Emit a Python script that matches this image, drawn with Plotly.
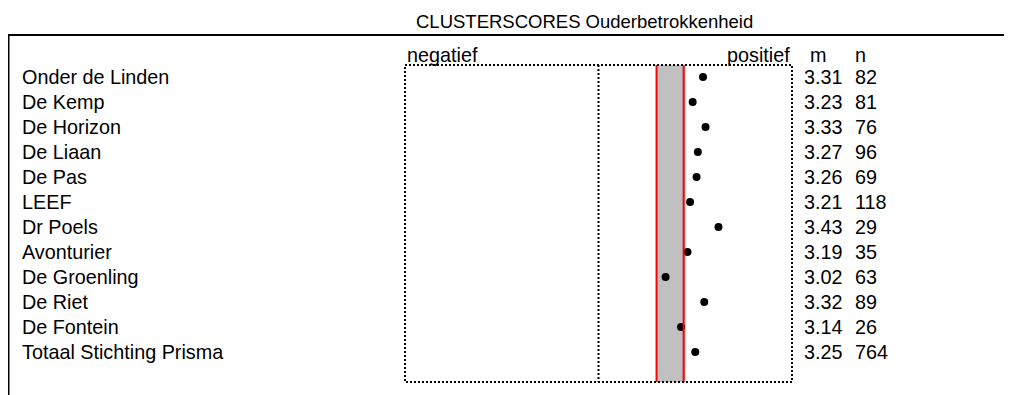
import plotly.graph_objects as go

# data
schools = [
    "Onder de Linden", "De Kemp", "De Horizon", "De Liaan", "De Pas", "LEEF",
    "Dr Poels", "Avonturier", "De Groenling", "De Riet", "De Fontein",
    "Totaal Stichting Prisma",
]
m_values = [3.31, 3.23, 3.33, 3.27, 3.26, 3.21, 3.43, 3.19, 3.02, 3.32, 3.14, 3.25]
n_values = [82, 81, 76, 96, 69, 118, 29, 35, 63, 89, 26, 764]
scale_min, scale_mid, scale_max = 1, 2.5, 4
band_low, band_high = 2.95, 3.16

# the page body has an 8px margin, so the figure is a bit smaller than the window
PAGE = 8
W, H = 1012 - PAGE, 395 - PAGE
FONT = "Liberation Sans, Arial, sans-serif"
rows = list(range(len(schools)))


def px_x(p):
    # screen pixel -> paper x
    return (p - PAGE) / W


def px_y(p):
    return 1 - (p - PAGE) / H


fig = go.Figure()
fig.add_trace(go.Scatter(
    x=m_values, y=rows, mode="markers",
    marker=dict(color="black", size=8),
    hoverinfo="skip",
))

shapes = []
box_top, box_bottom = -0.48, 12.2
# grey reference band with red edges
shapes.append(dict(type="rect", xref="x", yref="y", x0=band_low, x1=band_high + 0.015,
                   y0=box_top, y1=box_bottom, fillcolor="#c0c0c0", line=dict(width=0),
                   layer="below"))
for v in (band_low, band_high):
    shapes.append(dict(type="line", xref="x", yref="y", x0=v, x1=v, y0=box_top, y1=box_bottom,
                       line=dict(color="#ff0000", width=2)))
# dotted frame of the scale
dot = dict(color="black", width=2, dash="2px,2px")
shapes.append(dict(type="rect", xref="x", yref="y", x0=scale_min, x1=scale_max,
                   y0=box_top, y1=box_bottom, line=dot))
shapes.append(dict(type="line", xref="x", yref="y", x0=scale_mid, x1=scale_mid,
                   y0=box_top, y1=box_bottom, line=dot))
# outer frame, open to the right and bottom
shapes.append(dict(type="rect", xref="paper", yref="paper", x0=px_x(8.5), x1=1.02,
                   y0=-0.05, y1=px_y(35), line=dict(color="black", width=2)))

annotations = []
txt = dict(family=FONT, size=19.8, color="black")
for i, name in enumerate(schools):
    annotations.append(dict(x=px_x(20), y=i, xref="paper", yref="y", text=name,
                            showarrow=False, xanchor="left", yanchor="middle", font=txt))
    annotations.append(dict(x=px_x(802), y=i, xref="paper", yref="y", text=f"{m_values[i]:.2f}",
                            showarrow=False, xanchor="left", yanchor="middle", font=txt))
    annotations.append(dict(x=px_x(853), y=i, xref="paper", yref="y", text=str(n_values[i]),
                            showarrow=False, xanchor="left", yanchor="middle", font=txt))

head_y = -0.88
annotations += [
    dict(x=scale_min, y=head_y, xref="x", yref="y", text="negatief", showarrow=False,
         xanchor="left", yanchor="middle", font=txt),
    dict(x=scale_max, y=head_y, xref="x", yref="y", text="positief", showarrow=False,
         xanchor="right", yanchor="middle", font=txt),
    dict(x=px_x(808), y=head_y, xref="paper", yref="y", text="m", showarrow=False,
         xanchor="left", yanchor="middle", font=txt),
    dict(x=px_x(853), y=head_y, xref="paper", yref="y", text="n", showarrow=False,
         xanchor="left", yanchor="middle", font=txt),
    dict(x=px_x(584), y=px_y(21), xref="paper", yref="paper",
         text="CLUSTERSCORES Ouderbetrokkenheid", showarrow=False,
         xanchor="center", yanchor="middle", font=dict(family=FONT, size=18.5, color="black")),
]

# axes span the whole figure: 1..4 maps onto screen pixels 405..792, rows 25px apart from y=77
px_per_unit = 129
x0_px = 405 - PAGE
y0_px = 77 - PAGE
x_lo = scale_min - x0_px / px_per_unit
x_hi = scale_min + (W - x0_px) / px_per_unit
y_top = -y0_px / 25
y_bot = (H - y0_px) / 25

fig.update_layout(
    width=W, height=H,
    margin=dict(l=0, r=0, t=0, b=0),
    paper_bgcolor="white", plot_bgcolor="white",
    showlegend=False,
    xaxis=dict(range=[x_lo, x_hi], visible=False, fixedrange=True),
    yaxis=dict(range=[y_bot, y_top], visible=False, fixedrange=True),
    shapes=shapes,
    annotations=annotations,
)

fig.write_html("out.html", config={"displayModeBar": False})
